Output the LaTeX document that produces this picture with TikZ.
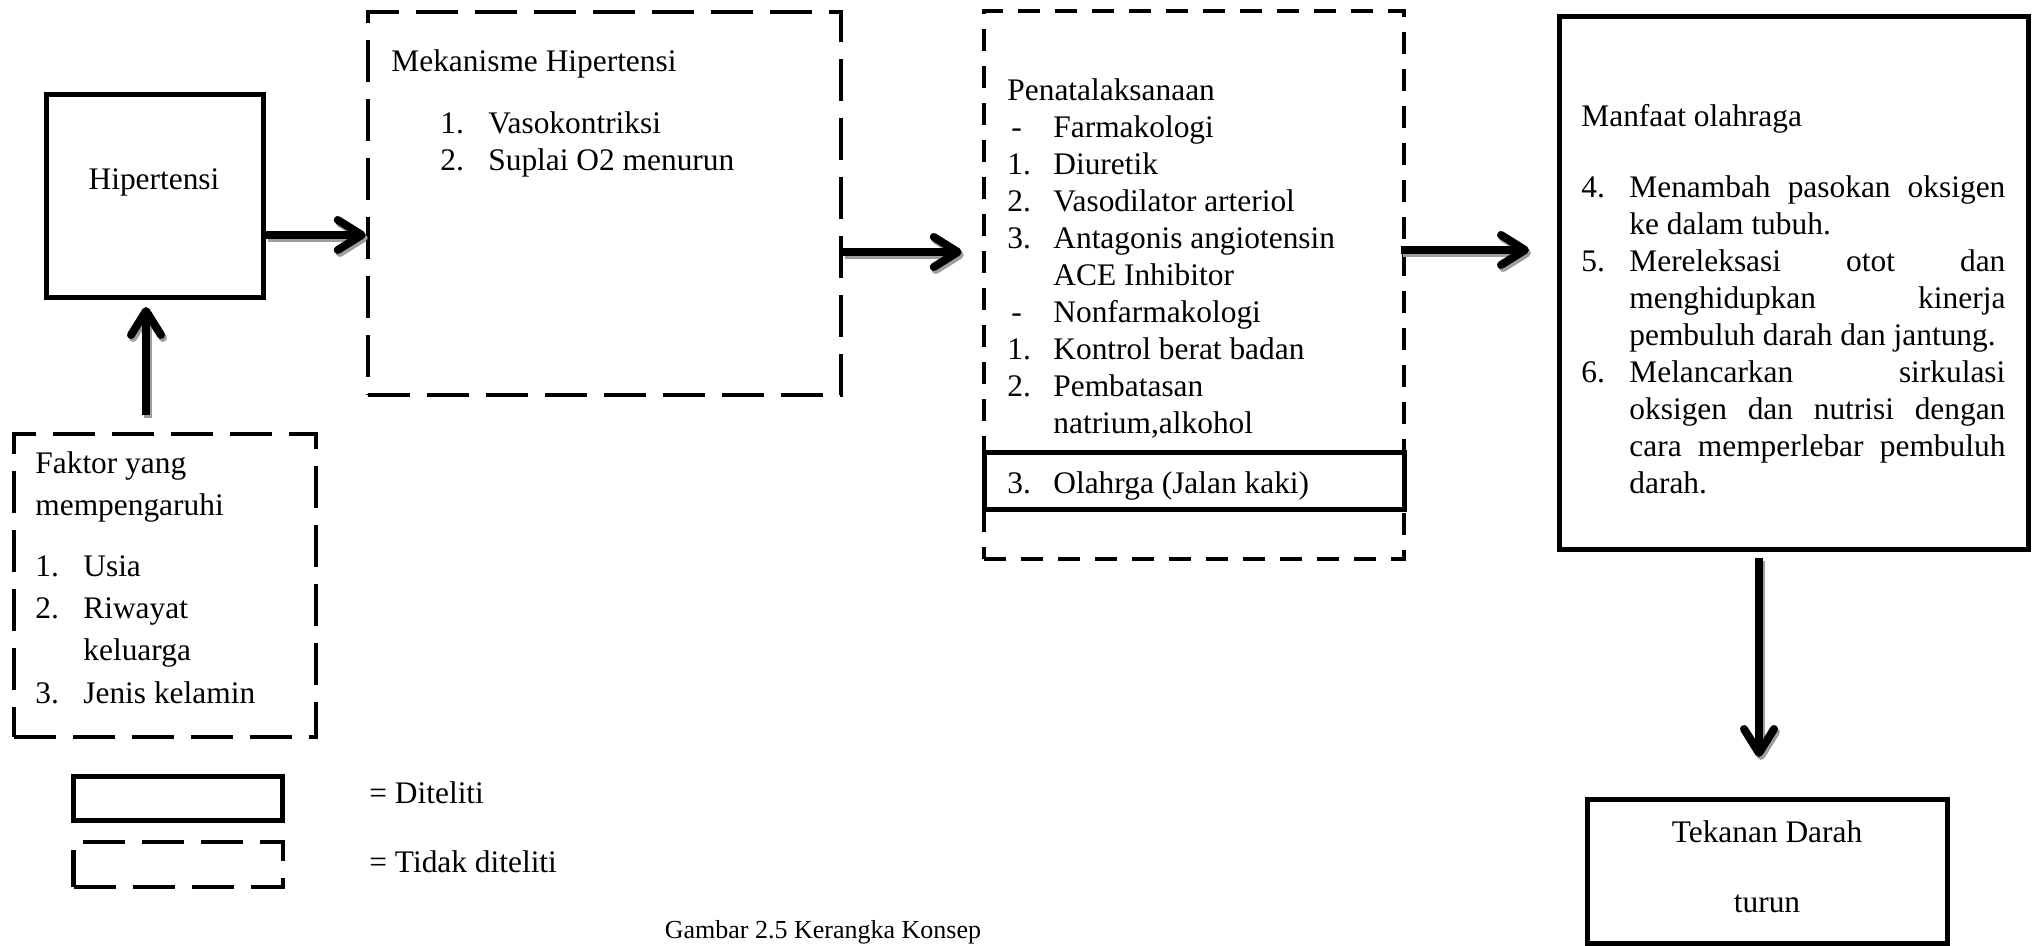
\documentclass[tikz,border=0pt]{standalone}
\usepackage{fontspec}
\setmainfont{Liberation Serif}
\usetikzlibrary{arrows.meta,fit,calc}
\begin{document}
\begin{tikzpicture}[x=0.5pt,y=-0.5pt,
  solidbox/.style={draw=black, line width=2.5pt, inner sep=0pt},
  longdash/.style={draw=black, line width=2.25pt, inner sep=0pt, dash pattern=on 21pt off 8.5pt},
  shortdash/.style={draw=black, line width=2.25pt, inner sep=0pt, dash pattern=on 11pt off 7.5pt},
  txt/.style={font=\fontsize{15.7pt}{18.5pt}\selectfont, inner sep=0pt, align=left},
  arr/.style={line width=4pt, -{Straight Barb[round, length=12pt, width=15pt]}},
  arrshadow/.style={arr, draw=black!38, transform canvas={shift={(1pt,-1.5pt)}}}
]
\useasboundingbox (0,0) rectangle (2033,946);
% boxes
\node[solidbox, fit={(46.5,94.5) (263.5,297.5)}] (hip) {};
\node[longdash, fit={(368,12) (841,395)}] (mek) {};
\node[longdash, fit={(14,434) (316,737)}] (fak) {};
\node[shortdash, fit={(984,11) (1404,559)}] (pen) {};
\node[solidbox, fit={(984,452) (1404,509)}] (olah) {};
\node[solidbox, fit={(1559,17) (2028.5,549)}] (man) {};
\node[solidbox, fit={(1587.5,799.5) (1947.5,943)}] (tek) {};
\node[solidbox, fit={(73.5,776.5) (282.5,820.5)}] (legs) {};
\node[longdash, fit={(73.5,842) (283,887)}] (legd) {};
% texts
\node[txt, anchor=center] (thip) at (154,182) {Hipertensi};
\node[txt, anchor=north west] (tmek) at (391,49) {Mekanisme Hipertensi\\[12.5pt]
\hspace*{24.5pt}\makebox[24pt][l]{1.}Vasokontriksi\\
\hspace*{24.5pt}\makebox[24pt][l]{2.}Suplai O2 menurun};
\node[txt, anchor=north west, font=\fontsize{15.7pt}{21.1pt}\selectfont] (tfak) at (35,451) {Faktor yang\\
mempengaruhi\\[9.5pt]
\makebox[24pt][l]{1.}Usia\\
\makebox[24pt][l]{2.}Riwayat\\
\hspace*{24pt}keluarga\\
\makebox[24pt][l]{3.}Jenis kelamin};
\node[txt, anchor=north west] (tpen) at (1007,78) {Penatalaksanaan\\
\hspace*{2pt}\makebox[21pt][l]{-}Farmakologi\\
\makebox[23pt][l]{1.}Diuretik\\
\makebox[23pt][l]{2.}Vasodilator arteriol\\
\makebox[23pt][l]{3.}Antagonis angiotensin\\
\hspace*{23pt}ACE Inhibitor\\
\hspace*{2pt}\makebox[21pt][l]{-}Nonfarmakologi\\
\makebox[23pt][l]{1.}Kontrol berat badan\\
\makebox[23pt][l]{2.}Pembatasan\\
\hspace*{23pt}natrium,alkohol};
\node[txt, anchor=north west] (tolah) at (1007,471) {\makebox[23pt][l]{3.}Olahrga (Jalan kaki)};
\node[txt, anchor=north west] (tmanh) at (1581,104) {Manfaat olahraga};
\node[txt, anchor=north west, align=justify, text width=212pt] (tman) at (1581,175) {\tolerance=10000\hbadness=10000\hyphenpenalty=10000\exhyphenpenalty=10000
\hangindent=24pt\hangafter=1\noindent\makebox[24pt][l]{4.}Menambah pasokan oksigen\linebreak ke dalam tubuh.\par
\hangindent=24pt\hangafter=1\noindent\makebox[24pt][l]{5.}Mereleksasi otot dan\linebreak menghidupkan kinerja\linebreak pembuluh darah dan jantung.\par
\hangindent=24pt\hangafter=1\noindent\makebox[24pt][l]{6.}Melancarkan sirkulasi\linebreak oksigen dan nutrisi dengan\linebreak cara memperlebar pembuluh\linebreak darah.\par};
\node[txt, anchor=north, align=center] (ttek) at (1767,820) {Tekanan Darah\\[16.5pt]turun};
\node[txt, anchor=west] (tlegs) at (369,793) {= Diteliti};
\node[txt, anchor=west] (tlegd) at (369,862) {= Tidak diteliti};
\node[txt, anchor=center, font=\fontsize{13pt}{15pt}\selectfont] (cap) at (823,932) {Gambar 2.5 Kerangka Konsep};
% arrow positions
\coordinate (a1) at (0,235);
\coordinate (a2) at (0,252);
\coordinate (a3) at (0,250);
\coordinate (a4) at (1759,0);
\coordinate (a5) at (146,0);
% shadows
\draw[arrshadow] (hip.east |- a1) -- (mek.west |- a1);
\draw[arrshadow, shorten >=10pt] (mek.east |- a2) -- (pen.west |- a2);
\draw[arrshadow, shorten <=-2.4pt, shorten >=13.75pt] (pen.east |- a3) -- (man.west |- a3);
\draw[arrshadow, shorten <=3.25pt, shorten >=20pt] (man.south -| a4) -- (tek.north -| a4);
\draw[arrshadow, shorten <=8.4pt, shorten >=3.5pt] (fak.north -| a5) -- (hip.south -| a5);
% arrows
\draw[arr] (hip.east |- a1) -- (mek.west |- a1);
\draw[arr, shorten >=10pt] (mek.east |- a2) -- (pen.west |- a2);
\draw[arr, shorten <=-2.4pt, shorten >=13.75pt] (pen.east |- a3) -- (man.west |- a3);
\draw[arr, shorten <=3.25pt, shorten >=20pt] (man.south -| a4) -- (tek.north -| a4);
\draw[arr, shorten <=8.4pt, shorten >=3.5pt] (fak.north -| a5) -- (hip.south -| a5);
\end{tikzpicture}
\end{document}
